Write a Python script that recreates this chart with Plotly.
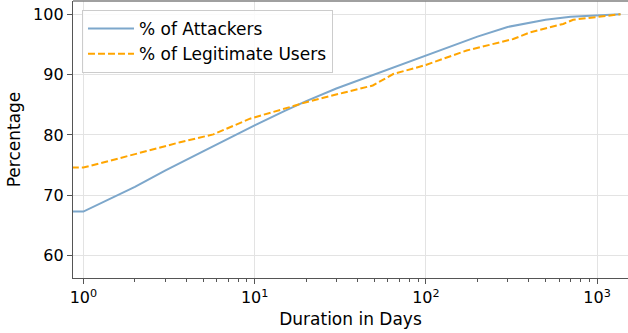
import math
import plotly.graph_objects as go

# Cumulative share (%) of accounts whose lifetime is at most N days
attacker_days = [0.5, 1, 2, 3, 5, 7, 10, 15, 20, 30, 40, 50, 70, 100, 150, 200, 300, 400, 500, 700, 1000, 1370]
attacker_pct = [67.3, 67.3, 71.4, 74.1, 77.3, 79.4, 81.6, 84.0, 85.6, 87.7, 89.0, 90.0, 91.5, 93.1, 95.0, 96.3, 97.9, 98.6, 99.1, 99.6, 99.85, 100.0]

legit_days = [0.5, 1, 1.87, 3.67, 5.74, 8.0, 9.4, 14.7, 21, 33, 49, 64.5, 100, 173, 324, 405, 634, 725, 1000, 1370]
legit_pct = [74.6, 74.6, 76.6, 78.8, 80.1, 81.9, 82.7, 84.3, 85.6, 87.0, 88.2, 90.1, 91.6, 94.0, 95.9, 97.0, 98.4, 99.1, 99.5, 100.0]

x_major = [1, 10, 100, 1000]
x_major_text = ["10<sup>0</sup>", "10<sup>1</sup>", "10<sup>2</sup>", "10<sup>3</sup>"]
x_minor = [m * 10 ** d for d in range(0, 3) for m in range(2, 10)]
y_ticks = [60, 70, 80, 90, 100]

FONT = "DejaVu Sans"
AXIS = "#555555"
GRID = "#e3e3e3"

fig = go.Figure()
fig.add_trace(go.Scatter(
    x=attacker_days, y=attacker_pct, mode="lines", name="% of Attackers",
    line=dict(color="#7da7cb", width=2),
))
fig.add_trace(go.Scatter(
    x=legit_days, y=legit_pct, mode="lines", name="% of Legitimate Users",
    line=dict(color="#ffa500", width=2, dash="7px,3px"),
))

fig.update_layout(
    width=628, height=333,
    margin=dict(l=73, r=0, t=1, b=55),
    paper_bgcolor="white", plot_bgcolor="white",
    font=dict(family=FONT, size=16, color="black"),
    legend=dict(
        x=0.0162, y=0.9675, xanchor="left", yanchor="top",
        bgcolor="rgba(255,255,255,0.85)", bordercolor="#cccccc", borderwidth=1,
        font=dict(size=17), tracegroupgap=0, itemwidth=46,
    ),
    xaxis=dict(
        type="log", range=[math.log10(0.87), math.log10(1515)],
        tickmode="array", tickvals=x_major, ticktext=x_major_text,
        ticks="outside", ticklen=5, tickwidth=1.2, tickcolor=AXIS,
        showline=True, linecolor=AXIS, linewidth=1.3,
        showgrid=True, gridcolor=GRID, gridwidth=1.3,
        zeroline=False,
        minor=dict(tickmode="array", tickvals=x_minor, ticks="outside",
                   ticklen=2.5, tickwidth=1, tickcolor=AXIS, showgrid=False),
        title=dict(text="Duration in Days", font=dict(size=17), standoff=6),
        tickfont=dict(size=16),
    ),
    yaxis=dict(
        range=[56.3, 102.2],
        tickmode="array", tickvals=y_ticks,
        ticks="outside", ticklen=5, tickwidth=1.2, tickcolor=AXIS,
        showline=True, linecolor=AXIS, linewidth=1.3,
        showgrid=True, gridcolor=GRID, gridwidth=1.3,
        zeroline=False,
        title=dict(text="Percentage", font=dict(size=17), standoff=8),
        tickfont=dict(size=16),
    ),
    shapes=[dict(type="line", xref="paper", yref="paper", x0=0, x1=1, y0=1, y1=1,
                 line=dict(color="#808080", width=1.5), layer="above")],
)

fig.write_html("out.html")
